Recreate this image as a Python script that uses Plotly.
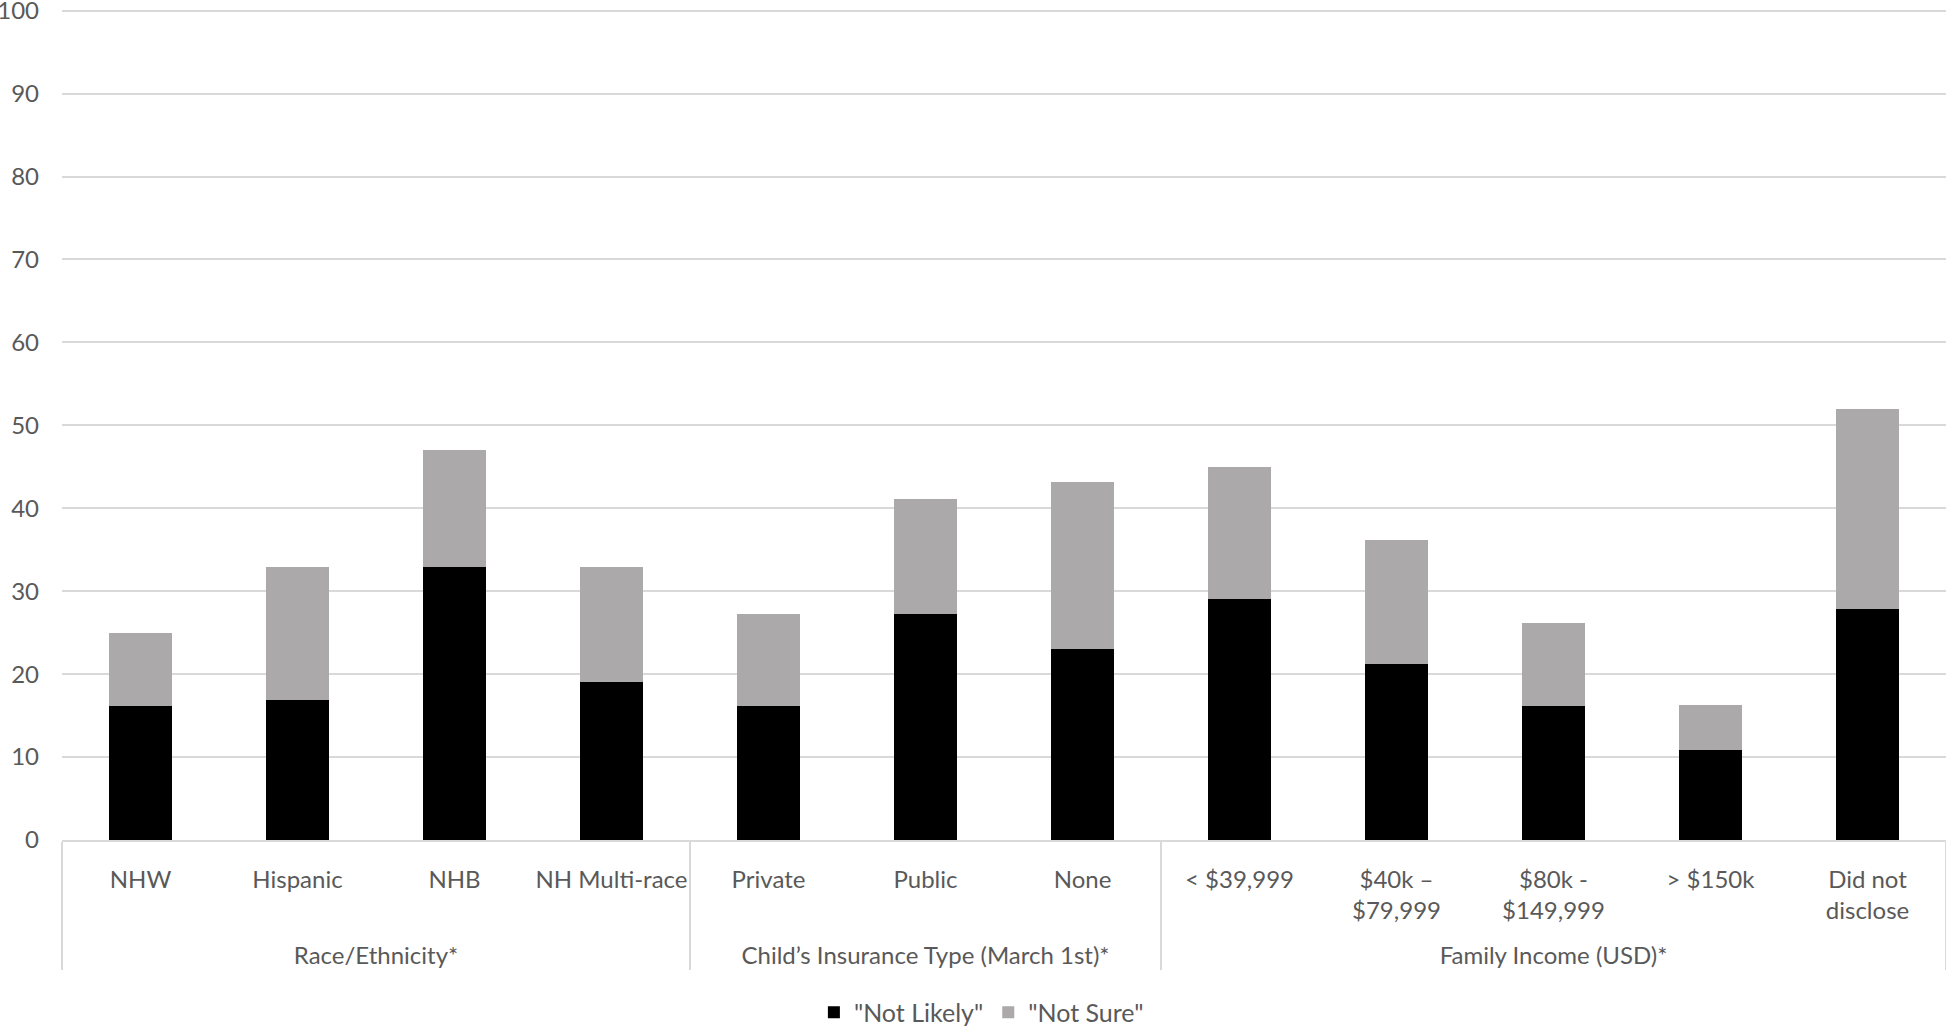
import plotly.graph_objects as go

groups = ["<br>Race/Ethnicity*"] * 4 + ["<br>Child’s Insurance Type (March 1st)*"] * 3 + ["<br>Family Income (USD)*"] * 5
categories = ["NHW", "Hispanic", "NHB", "NH Multi-race",
              "Private", "Public", "None",
              "< $39,999", "$40k –<br>$79,999", "$80k -<br>$149,999", "> $150k", "Did not<br>disclose"]
not_likely = [16.2, 16.9, 32.9, 19.0, 16.2, 27.2, 23.0, 29.0, 21.2, 16.2, 10.9, 27.9]
not_sure = [8.8, 16.0, 14.1, 13.9, 11.0, 13.9, 20.2, 16.0, 15.0, 10.0, 5.4, 24.1]
y_ticks = [0, 10, 20, 30, 40, 50, 60, 70, 80, 90, 100]

FONT = "Lato"
TXT = "#595959"

fig = go.Figure()
fig.add_trace(go.Bar(x=[groups, categories], y=not_likely, name='"Not Likely"',
                     marker=dict(color="#000000", line=dict(width=0))))
fig.add_trace(go.Bar(x=[groups, categories], y=not_sure, name='"Not Sure"',
                     marker=dict(color="#ABA9A9", line=dict(width=0))))

fig.update_layout(
    width=1946, height=1030,
    barmode="stack", bargap=0.605,
    plot_bgcolor="white", paper_bgcolor="white",
    margin=dict(l=62, r=0, t=9, b=190, autoexpand=False),
    font=dict(family=FONT, size=24, color=TXT),
    legend=dict(orientation="h", x=0.488, xanchor="center", yref="container", y=0.017, yanchor="middle",
                font=dict(family=FONT, size=25, color=TXT), traceorder="normal"),
    showlegend=True,
)
fig.update_yaxes(range=[0, 100.2], tickvals=y_ticks, showgrid=True, gridcolor="#D9D9D9", gridwidth=1.5,
                 zeroline=False, showline=False, ticks="", ticklabelstandoff=22, automargin=False,
                 ticklabeloverflow="allow",
                 tickfont=dict(family=FONT, size=24, color=TXT))
fig.update_xaxes(type="multicategory", showline=True, linecolor="#D9D9D9", linewidth=1.5,
                 showdividers=True, dividercolor="#D9D9D9", dividerwidth=1.5, ticks="", automargin=False,
                 ticklabelstandoff=17, tickangle=0, ticklabeloverflow="allow",
                 tickfont=dict(family=FONT, size=24, color=TXT))

fig.write_html("out.html", config={"displayModeBar": False},
               post_script="document.body.style.margin='0';document.body.style.overflow='hidden';")
